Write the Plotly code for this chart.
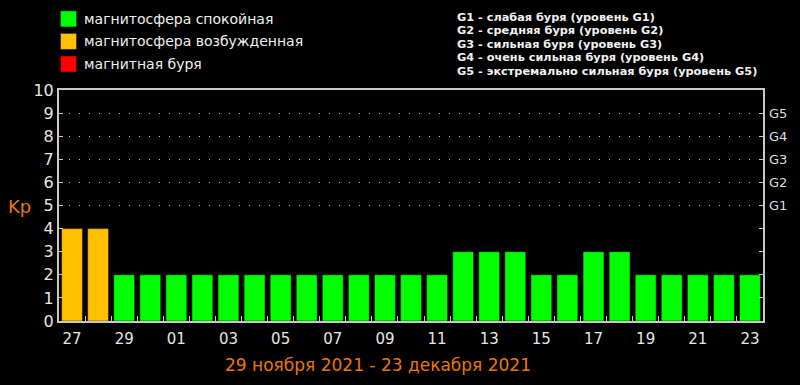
import plotly.graph_objects as go

days = ["27", "28", "29", "30", "01", "02", "03", "04", "05", "06", "07", "08", "09", "10",
        "11", "12", "13", "14", "15", "16", "17", "18", "19", "20", "21", "22", "23"]
kp = [4, 4, 2, 2, 2, 2, 2, 2, 2, 2, 2, 2, 2, 2, 2, 3, 3, 3, 2, 2, 3, 3, 2, 2, 2, 2, 2]
g_levels = [5, 6, 7, 8, 9]
g_labels = ["G1", "G2", "G3", "G4", "G5"]
legend_names = ["магнитосфера спокойная", "магнитосфера возбужденная", "магнитная буря"]
legend_colors = ["#00FF00", "#FFC000", "#FF0000"]
storm_text = ["G1 - слабая буря (уровень G1)",
              "G2 - средняя буря (уровень G2)",
              "G3 - сильная буря (уровень G3)",
              "G4 - очень сильная буря (уровень G4)",
              "G5 - экстремально сильная буря (уровень G5)"]
period = "29 ноября 2021 - 23 декабря 2021"

def color_for(v):
    if v >= 5:
        return legend_colors[2]
    if v >= 4:
        return legend_colors[1]
    return legend_colors[0]

x = list(range(len(days)))
fig = go.Figure()
fig.add_trace(go.Bar(x=x, y=kp, marker=dict(color=[color_for(v) for v in kp],
                                            line=dict(color="rgba(0,0,0,0.45)", width=1)),
                     width=0.8, showlegend=False, hoverinfo="skip"))

# invisible trace to anchor right axis
fig.add_trace(go.Scatter(x=[None], y=[None], yaxis="y2", showlegend=False, hoverinfo="skip"))

axis_col = "#C8C8C8"
PT, PH, PL, PW = 90, 230.7, 59, 704

def py(px):
    return (PT + PH - px) / PH

def pxx(px):
    return (px - PL) / PW

annotations = []
shapes = []
# manual legend (layout decoration in paper coordinates)
for i, (name, col) in enumerate(zip(legend_names, legend_colors)):
    cy = 19 + 22.5 * i
    shapes.append(dict(type="rect", xref="paper", yref="paper",
                       x0=pxx(60.5), x1=pxx(76.5), y0=py(cy + 8), y1=py(cy - 8),
                       fillcolor=col, line=dict(color="rgba(0,0,0,0.4)", width=1)))
    annotations.append(dict(text=name, xref="paper", yref="paper", x=pxx(82),
                            y=py(cy), xanchor="left", yanchor="middle", showarrow=False,
                            font=dict(family="DejaVu Sans", size=14, color="#F0F0F0")))
for i, line in enumerate(storm_text):
    annotations.append(dict(text=line, xref="paper", yref="paper",
                            x=pxx(455), y=py(17.5 + 13.5 * i), xanchor="left",
                            yanchor="middle", align="left", showarrow=False,
                            font=dict(family="DejaVu Sans", size=11.3, color="#F0F0F0",
                                      weight="bold")))
annotations += [
    dict(text="Kp", xref="paper", yref="paper", x=pxx(19), y=py(206),
         xanchor="center", yanchor="middle", showarrow=False,
         font=dict(size=18, color="#E87800")),
    dict(text=period, xref="paper", yref="paper", x=pxx(378),
         y=py(365), xanchor="center", yanchor="middle", showarrow=False,
         font=dict(size=17, color="#E87800")),
]

fig.update_layout(
    width=800, height=385,
    paper_bgcolor="black", plot_bgcolor="black",
    margin=dict(l=59, r=37, t=90, b=64),
    font=dict(family="DejaVu Sans", color="#E6E6E6"),
    bargap=0.2,
    showlegend=False,
    xaxis=dict(range=[-0.5, len(days) - 0.5], tickvals=x[::2], ticktext=days[::2],
               ticks="", showgrid=False, zeroline=False, ticklabelstandoff=3,
               showline=True, linecolor=axis_col, linewidth=2, mirror=True,
               tickfont=dict(size=15, color="#E6E6E6"),
               minor=dict(tickvals=[i + 0.5 for i in x[:-1]], ticks="inside", ticklen=5,
                          tickcolor=axis_col, tickwidth=1, showgrid=False)),
    yaxis=dict(range=[0, 10], tickvals=list(range(11)), ticks="inside", ticklen=4,
               tickcolor=axis_col, showgrid=False, zeroline=False,
               showline=True, linecolor=axis_col, linewidth=2, mirror="ticks",
               tickfont=dict(size=16, color="#E6E6E6")),
    yaxis2=dict(range=[0, 10], overlaying="y", side="right", tickvals=g_levels,
                ticktext=g_labels, ticks="", showgrid=True, gridcolor="#BBBBBB",
                griddash="1px,9px", gridwidth=1, zeroline=False, showline=False,
                ticklabelstandoff=5,
                tickfont=dict(size=13, color="#DDDDDD")),
    shapes=shapes,
    annotations=annotations,
)
fig.write_html("out.html", config={"displayModeBar": False},
               post_script="document.body.style.margin='0';document.body.style.overflow='hidden';")
